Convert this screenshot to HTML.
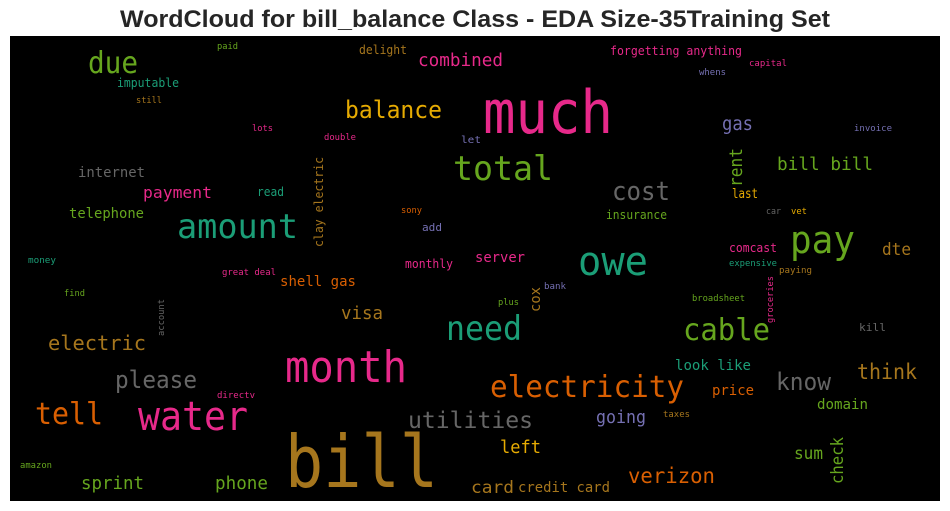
<!DOCTYPE html>
<html><head><meta charset="utf-8"><style>
html,body{margin:0;padding:0;background:#fff;width:950px;height:511px;overflow:hidden}
svg{display:block}
</style></head><body>
<svg id="c" width="950" height="511" xmlns="http://www.w3.org/2000/svg">
<text x="475" y="27" text-anchor="middle" font-family="Liberation Sans, Arial, sans-serif" font-weight="bold" font-size="24" fill="#262626" textLength="710" lengthAdjust="spacingAndGlyphs">WordCloud for bill_balance Class - EDA Size-35Training Set</text>
<rect x="10" y="36" width="930" height="465" fill="#000"/>
<g id="words"></g>
</svg>
<script>
// word, left x, baseline y, width, font size, color index, rotated (1 = vertical)
const words = ["bill","much","month","water","tell","please","electric","amount","due","balance","combined","total","cost","gas","rent","bill bill","last","insurance","car","vet","pay","dte","comcast","expensive","owe","server","forgetting anything","capital","whens","invoice","let","paid","delight","imputable","still","lots","double","internet","payment","read","clay electric","telephone","sony","add","money","monthly","great deal","shell gas","find","account","visa","need","directv","utilities","electricity","amazon","sprint","phone","left","going","card","credit card","verizon","cox","bank","plus","broadsheet","paying","groceries","cable","kill","look like","think","know","price","domain","taxes","sum","check"];
const xs = [285,483,285,138,35,115,48,177,88,345,418,453,612,722,742,777,732,606,766,791,790,882,729,729,578,475,610,749,699,854,461,217,359,117,136,252,324,78,143,257,323,69,401,422,28,405,222,280,64,164,341,446,217,408,490,20,81,215,500,596,471,518,628,540,544,498,692,779,773,683,859,675,857,776,712,817,663,794,843];
const ys = [487,133,382,430,424,388,350,238,73,118,66,180,200,130,187,170,198,219,214,214,253,255,252,266,275,262,55,66,75,131,143,49,54,87,103,131,140,177,198,196,247,218,213,231,263,268,275,286,296,336,319,340,398,428,397,468,489,489,453,423,493,492,483,312,289,305,301,273,323,340,331,370,379,390,395,409,417,459,484];
const widths = [153,130,122,110,68,82,98,121,50,97,85,100,58,31,39,96,26,61,15,16,65,29,48,48,70,50,132,38,27,38,20,21,48,62,26,21,32,67,69,27,90,75,21,20,28,48,54,76,21,37,42,76,38,125,194,32,63,53,41,50,43,92,87,25,22,21,53,33,47,87,27,76,60,55,42,51,27,29,47];
const sizes = [72,60,44,40,30,24,20,34,30,24,18,34,26,19,18,18,13,12,9,9,38,17,12,9,40,14,12,9,9,9,10,9,12,12,9,9,9,14,16,12,12,14,9,11,9,12,9,14,9,9,18,34,9,23,30,9,18,18,18,18,17,14,21,14,9,9,9,9,9,30,11,14,21,24,14,14,9,17,17];
const colorIdx = [6,3,3,3,1,7,6,0,4,5,3,4,7,2,4,4,5,4,7,5,4,6,3,0,0,3,3,3,2,2,2,4,6,0,6,3,3,7,3,0,6,4,1,2,0,3,3,1,4,7,6,0,3,7,1,4,4,4,5,2,6,6,1,6,2,4,4,6,3,4,7,0,6,7,1,4,6,4,4];
const rotated = [0,0,0,0,0,0,0,0,0,0,0,0,0,0,1,0,0,0,0,0,0,0,0,0,0,0,0,0,0,0,0,0,0,0,0,0,0,0,0,0,1,0,0,0,0,0,0,0,0,1,0,0,0,0,0,0,0,0,0,0,0,0,0,1,0,0,0,0,1,0,0,0,0,0,0,0,0,0,1];
const palette = ["#1b9e77","#d95f02","#7570b3","#e7298a","#66a61e","#e6ab02","#a6761d","#666666"];

const g = document.getElementById('words');
const NS = "http://www.w3.org/2000/svg";
words.forEach((w, i) => {
  const t = document.createElementNS(NS, 'text');
  
  
  t.setAttribute('x', xs[i]);
  t.setAttribute('y', ys[i]);
  t.setAttribute('font-family', 'DejaVu Sans Mono, Liberation Mono, monospace');
  t.setAttribute('font-size', sizes[i]);
  t.setAttribute('fill', palette[colorIdx[i]]);
  t.setAttribute('textLength', widths[i]);
  t.setAttribute('lengthAdjust', 'spacingAndGlyphs');
  if (rotated[i]) t.setAttribute('transform', 'rotate(-90 ' + xs[i] + ' ' + ys[i] + ')');
  t.textContent = w;
  g.appendChild(t);
});
</script>
</body></html>
